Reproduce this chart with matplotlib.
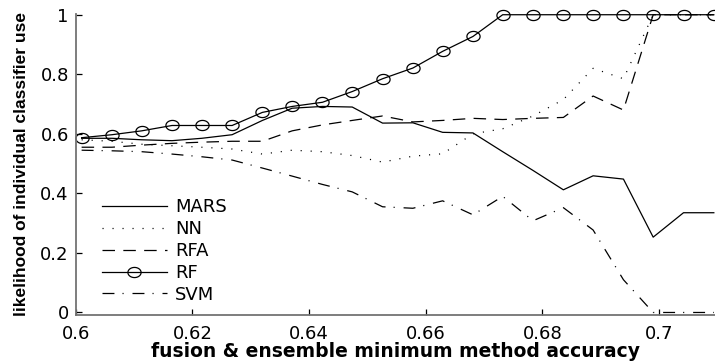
import numpy as np
import matplotlib
matplotlib.use('Agg')
import matplotlib.pyplot as plt
from matplotlib.path import Path

# minimum method accuracy (x) and likelihood of use per classifier
acc = [0.6010, 0.6062, 0.6113, 0.6165, 0.6216, 0.6268, 0.6320, 0.6371, 0.6423, 0.6474, 0.6526,
       0.6578, 0.6629, 0.6681, 0.6732, 0.6784, 0.6836, 0.6887, 0.6939, 0.6990, 0.7042, 0.7094]
mars = [0.585, 0.585, 0.580, 0.577, 0.585, 0.597, 0.645, 0.686, 0.692, 0.690, 0.636,
        0.637, 0.605, 0.603, 0.540, 0.477, 0.412, 0.459, 0.448, 0.253, 0.335, 0.335]
nn = [0.580, 0.575, 0.565, 0.560, 0.555, 0.549, 0.532, 0.545, 0.540, 0.527, 0.505,
      0.525, 0.533, 0.600, 0.617, 0.660, 0.715, 0.820, 0.785, 1.000, 1.000, 1.000]
rfa = [0.555, 0.555, 0.562, 0.568, 0.572, 0.575, 0.575, 0.610, 0.630, 0.645, 0.660,
       0.640, 0.645, 0.652, 0.648, 0.652, 0.655, 0.727, 0.680, 1.000, 1.000, 1.000]
rf = [0.587, 0.597, 0.610, 0.628, 0.628, 0.628, 0.672, 0.692, 0.706, 0.742, 0.785,
      0.821, 0.877, 0.927, 1.000, 1.000, 1.000, 1.000, 1.000, 1.000, 1.000, 1.000]
svm = [0.545, 0.543, 0.540, 0.532, 0.523, 0.512, 0.485, 0.458, 0.430, 0.405, 0.355,
       0.350, 0.375, 0.328, 0.390, 0.308, 0.352, 0.277, 0.110, 0.000, 0.000, 0.000]

xticks = [0.6, 0.62, 0.64, 0.66, 0.68, 0.7]
xticklabels = ['0.6', '0.62', '0.64', '0.66', '0.68', '0.7']
yticks = [0, 0.2, 0.4, 0.6, 0.8, 1]
yticklabels = ['0', '0.2', '0.4', '0.6', '0.8', '1']

plt.rcParams['font.family'] = ['DejaVu Sans']
plt.rcParams['lines.scale_dashes'] = False

# the original picture is stretched sideways, so the circles are ellipses
t = np.linspace(0, 2 * np.pi, 41)
ell = Path(np.column_stack([1.3 * np.cos(t), np.sin(t)]), closed=True)

fig = plt.figure(figsize=(7.15, 3.64), dpi=100)
ax = fig.add_axes([0.106, 0.135, 0.894, 0.827])

lw = 0.9
ax.plot(acc, mars, color='k', lw=lw, ls='-', label='MARS')
ax.plot(acc, nn, color='k', lw=lw, ls=(0, (0.8, 6.4)), label='NN')
ax.plot(acc, rfa, color='k', lw=lw, ls=(0, (9, 6)), label='RFA')
ax.plot(acc, rf, color='k', lw=lw, ls='-', marker=ell, ms=9.5, mfc='none', mec='k',
        mew=0.9, label='RF', clip_on=False)
ax.plot(acc, svm, color='k', lw=lw, ls=(0, (8.6, 5.8, 0.8, 6.4)), label='SVM')

ax.set_xlim(0.6, 0.7096)
ax.set_ylim(-0.008, 1.003)
ax.set_xticks(xticks)
ax.set_xticklabels(xticklabels)
ax.set_yticks(yticks)
ax.set_yticklabels(yticklabels)
ax.tick_params(direction='in', length=4, width=0.9, labelsize=13)
ax.tick_params(axis='x', pad=7)
ax.tick_params(axis='y', pad=5)

for s in ['top', 'right']:
    ax.spines[s].set_visible(False)
for s in ['left', 'bottom']:
    ax.spines[s].set_color('0.45')
    ax.spines[s].set_linewidth(1.3)

ax.set_xlabel('fusion & ensemble minimum method accuracy', fontsize=13.5, fontweight='bold')
ax.xaxis.set_label_coords(0.5, -0.123)
ax.xaxis.label.set_va('center')
ax.set_ylabel('likelihood of individual classifier use', fontsize=12.5, fontweight='bold',
              family='Liberation Sans')
ax.yaxis.set_label_coords(-0.085, 0.5)
ax.yaxis.label.set_va('center')

ax.legend(loc='center left', bbox_to_anchor=(0.0407, 0.2126), frameon=False, fontsize=13,
          handlelength=3.6, handletextpad=0.45, labelspacing=0.22, borderpad=0,
          borderaxespad=0, numpoints=1)

fig.savefig('out.png', dpi=100)
